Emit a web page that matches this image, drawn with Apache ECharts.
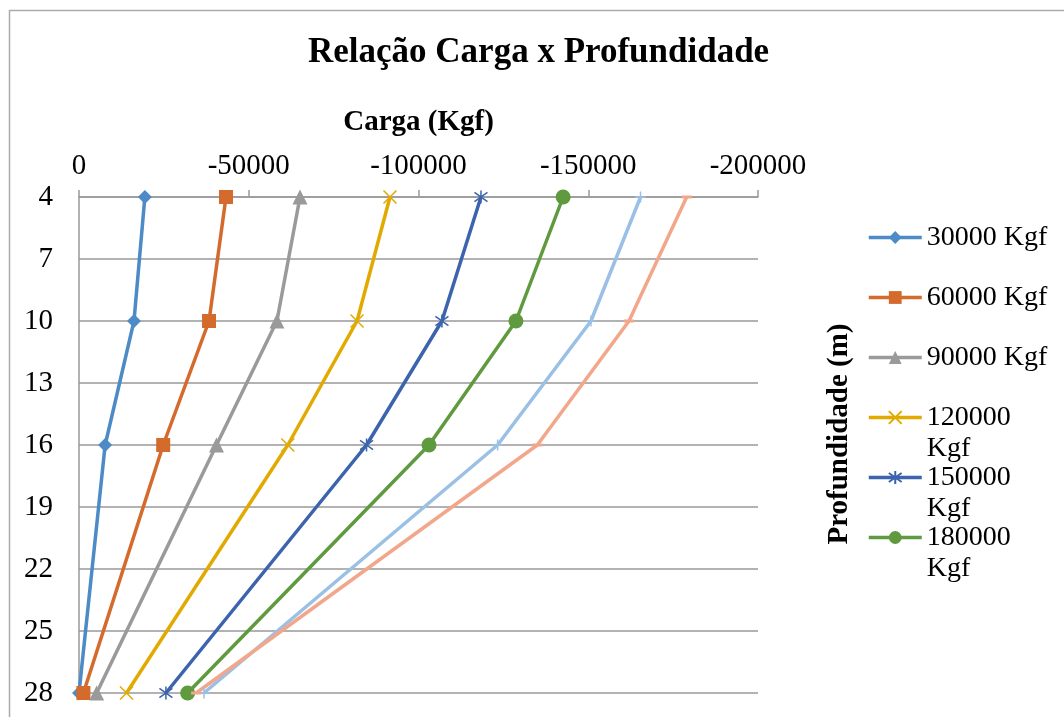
<!DOCTYPE html>
<html>
<head>
<meta charset="utf-8">
<script src="https://cdn.jsdelivr.net/npm/echarts@6/dist/echarts.min.js"></script>
<style>html,body{margin:0;padding:0;background:#fff;}#c{width:1064px;height:717px;}</style>
</head>
<body>
<div id="c"></div>
<script>
const depths = [4, 10, 16, 28];
const depthTicks = [4, 7, 10, 13, 16, 19, 22, 25, 28];
const seriesNames = ['30000 Kgf', '60000 Kgf', '90000 Kgf', '120000 Kgf', '150000 Kgf', '180000 Kgf', '210000 Kgf', '240000 Kgf'];
const load30000 = [-19400, -16200, -7700, 0];
const load60000 = [-43300, -38300, -24800, -1300];
const load90000 = [-65100, -58300, -40500, -5200];
const load120000 = [-91600, -81900, -61500, -14000];
const load150000 = [-118400, -106900, -84700, -25600];
const load180000 = [-142600, -128700, -103100, -32000];
const load210000 = [-165400, -150800, -123300, -36800];
const load240000 = [-179000, -162000, -135000, -34500];
const legendNames = seriesNames.slice(0, 6);

const allLoads = [load30000, load60000, load90000, load120000, load150000, load180000, load210000, load240000];
const colors = ['#4C8BC5', '#D46A2B', '#9A9A9A', '#E2AA00', '#3C64AE', '#5F9A3F', '#9BC0E5', '#F2A78A'];
const X_PATH = 'path://M0 0L10 10M10 0L0 10';
const STAR_PATH = 'path://M0 1.5L10 8.5M10 1.5L0 8.5M5 0L5 10';
const PLUS_PATH = 'path://M5 0L5 10M0 5L10 5';
const markers = [
  {symbol: 'diamond', size: 14, bw: 0},
  {symbol: 'rect', size: 14, bw: 0},
  {symbol: 'triangle', size: 15, bw: 0},
  {symbol: X_PATH, size: 13, bw: 1.5},
  {symbol: STAR_PATH, size: 13, bw: 1.5},
  {symbol: 'circle', size: 15, bw: 0},
  {symbol: PLUS_PATH, size: 11, bw: 1.5},
  {symbol: 'rect', size: [10, 3], bw: 0}
];

const FONT = "'Liberation Serif', 'Times New Roman', serif";
const chart = echarts.init(document.getElementById('c'), null, {renderer: 'canvas'});

const series = allLoads.map((vals, i) => ({
  name: seriesNames[i],
  type: 'line',
  data: vals.map((v, k) => [v, depths[k]]),
  symbol: markers[i].symbol,
  symbolSize: markers[i].size,
  showAllSymbol: true,
  lineStyle: {color: colors[i], width: 3.5},
  itemStyle: {color: colors[i], borderColor: colors[i], borderWidth: markers[i].bw},
  emphasis: {disabled: true},
  clip: false
}));

chart.setOption({
  animation: false,
  backgroundColor: '#fff',
  color: colors,
  title: {
    text: 'Relação Carga x Profundidade',
    left: 308,
    top: 35,
    padding: 0,
    textStyle: {fontFamily: FONT, fontSize: 35, fontWeight: 'bold', color: '#000'}
  },
  legend: {
    data: legendNames,
    orient: 'vertical',
    left: 867,
    top: 191,
    padding: 0,
    itemGap: -33,
    itemWidth: 53,
    itemHeight: 16,
    lineStyle: {width: 3.5},
    formatter: function (name) { return name.length > 9 ? '\n' + name.replace(' ', '\n') : '\n' + name + '\n'; },
    textStyle: {fontFamily: FONT, fontSize: 28, color: '#000', lineHeight: 31, backgroundColor: 'rgba(0,0,0,0)'}
  },
  grid: {left: 79, top: 197, right: 306, bottom: 24, containLabel: false},
  xAxis: {
    type: 'value',
    position: 'top',
    min: -200000,
    max: 0,
    interval: 50000,
    inverse: true,
    name: 'Carga (Kgf)',
    nameLocation: 'middle',
    nameGap: 60,
    nameTextStyle: {fontFamily: FONT, fontSize: 29, fontWeight: 'bold', color: '#000'},
    axisLine: {show: true, lineStyle: {color: '#999', width: 1.5}},
    axisTick: {show: true, inside: false, length: 7, lineStyle: {color: '#999', width: 1.5}},
    splitLine: {show: false},
    axisLabel: {
      margin: 16,
      fontFamily: FONT, fontSize: 29, color: '#000',
      formatter: function (v) { return String(v); }
    }
  },
  yAxis: {
    type: 'value',
    min: 4,
    max: 28,
    interval: 3,
    inverse: true,
    name: 'Profundidade (m)',
    nameLocation: 'middle',
    nameRotate: 90,
    nameGap: -775,
    nameTextStyle: {fontFamily: FONT, fontSize: 29, fontWeight: 'bold', color: '#000', padding: [0, 0, 0, 22]},
    axisLine: {show: true, lineStyle: {color: '#999', width: 1.5}},
    axisTick: {show: false, customValues: depthTicks},
    splitLine: {show: true, lineStyle: {color: '#999', width: 1.5}},
    axisLabel: {
      customValues: depthTicks,
      margin: 26,
      fontFamily: FONT, fontSize: 29, color: '#000'
    }
  },
  graphic: [{
    type: 'rect',
    left: 7, top: 8,
    shape: {width: 1100, height: 800},
    style: {fill: 'none', stroke: '#aaa', lineWidth: 1.5},
    silent: true
  }],
  series: series
});
</script>
</body>
</html>
